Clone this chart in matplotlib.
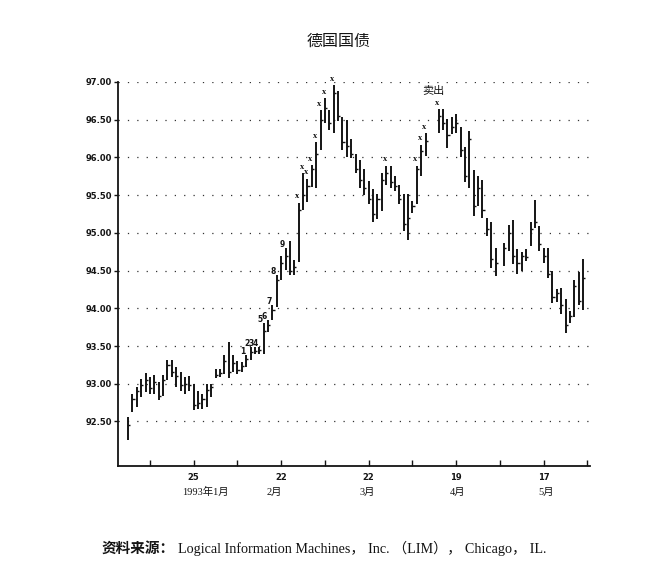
import matplotlib
matplotlib.use("Agg")
import matplotlib.pyplot as plt
import numpy as np

plt.rcParams['font.family'] = ['DejaVu Sans', 'Noto Sans CJK SC']

# ---------------- data (weekday slots, 4 Jan 1993 .. 28 May 1993; None = no trading) ----
highs = [92.56, 92.87, 92.96, 93.06, 93.14, 93.09, 93.12, 93.02, 93.11, 93.31,
         93.31, 93.22, 93.16, 93.09, 93.10, 93.00, 92.91, 92.87, 93.00, 93.00,
         93.20, 93.20, 93.38, 93.56, 93.38, 93.30, 93.29, 93.38, 93.49, 93.49,
         93.49, 93.80, 93.84, 94.04, 94.44, 94.69, 94.80, 94.89, 94.64, 95.40,
         95.79, 95.72, 95.90, 96.20, 96.63, 96.79, 96.63, 96.96, 96.88, 96.54,
         96.50, 96.25, 96.05, 95.97, 95.85, 95.69, 95.58, 95.51, 95.80, 95.89,
         95.89, 95.75, 95.64, 95.51, 95.51, 95.42, 95.89, 96.17, 96.32, None,
         None, 96.64, 96.64, 96.51, 96.53, 96.57, 96.40, 96.14, 96.35, 95.83,
         95.75, 95.70, 95.20, 95.15, 94.80, None, 94.87, 95.11, 95.17, 94.78,
         94.74, 94.78, 95.15, 95.44, 95.09, 94.80, 94.80, 94.49, 94.25, 94.27,
         94.13, 93.96, 94.38, 94.48, 94.65]
lows = [92.26, 92.62, 92.69, 92.83, 92.89, 92.87, 92.87, 92.78, 92.84, 93.05,
        93.09, 92.96, 92.91, 92.87, 92.90, 92.65, 92.67, 92.67, 92.69, 92.82,
        93.07, 93.09, 93.13, 93.07, 93.16, 93.13, 93.16, 93.22, 93.31, 93.40,
        93.40, 93.40, 93.69, 93.84, 94.02, 94.38, 94.51, 94.44, 94.44, 94.62,
        95.30, 95.41, 95.61, 95.59, 96.10, 96.45, 96.37, 96.32, 96.48, 96.10,
        96.00, 95.99, 95.79, 95.59, 95.50, 95.38, 95.15, 95.18, 95.29, 95.64,
        95.60, 95.55, 95.38, 95.02, 94.91, 95.26, 95.38, 95.75, 96.02, None,
        None, 96.33, 96.37, 96.13, 96.31, 96.33, 96.00, 95.68, 95.59, 95.22,
        95.35, 95.20, 94.96, 94.54, 94.43, None, 94.56, 94.76, 94.59, 94.45,
        94.50, 94.63, 94.83, 95.07, 94.76, 94.60, 94.40, 94.07, 94.09, 93.93,
        93.67, 93.80, 93.89, 94.04, 93.98]
closes = [92.45, 92.80, 92.90, 92.98, 93.05, 92.95, 93.02, 92.84, 93.05, 93.25,
          93.15, 93.10, 92.98, 93.00, 92.98, 92.72, 92.75, 92.80, 92.92, 92.96,
          93.12, 93.14, 93.30, 93.15, 93.28, 93.18, 93.24, 93.33, 93.42, 93.44,
          93.45, 93.70, 93.78, 93.98, 94.38, 94.60, 94.70, 94.50, 94.55, 95.30,
          95.50, 95.62, 95.85, 96.05, 96.50, 96.65, 96.45, 96.85, 96.55, 96.20,
          96.15, 96.05, 95.85, 95.70, 95.60, 95.45, 95.25, 95.45, 95.70, 95.80,
          95.68, 95.62, 95.45, 95.12, 95.20, 95.35, 95.85, 96.08, 96.22, None,
          None, 96.55, 96.45, 96.30, 96.40, 96.45, 96.10, 95.75, 96.25, 95.35,
          95.60, 95.30, 95.05, 94.65, 94.60, None, 94.80, 95.00, 94.70, 94.60,
          94.70, 94.68, 95.05, 95.15, 94.85, 94.70, 94.45, 94.15, 94.20, 94.05,
          93.78, 93.90, 94.30, 94.10, 94.40]

tick_slots = [15, 35, 55, 75, 95]
tick_labels = ['25', '22', '22', '19', '17']
minor_slots = [5, 25, 45, 65, 85, 105]
month_labels = ['1993年1月', '2月', '3月', '4月', '5月']
y_ticks = [92.5, 93.0, 93.5, 94.0, 94.5, 95.0, 95.5, 96.0, 96.5, 97.0]

count_slots = [27, 28, 29, 30, 31, 32, 33, 34, 36]
count_labels = ['1', '2', '3', '4', '5', '6', '7', '8', '9']
x_marker_slots = [39, 40, 41, 42, 43, 44, 45, 47, 59, 66, 67, 68, 71]
sell_slot = 71
sell_label = '卖出'

# ---------------- figure ----------------
fig = plt.figure(figsize=(6.65, 5.65), dpi=100)
ax = fig.add_axes([118/665, 1-466/565, (590-118)/665, (466-82)/565])

idx = [i for i, h in enumerate(highs) if h is not None]
xs = np.array(idx, dtype=float)
H = np.array([highs[i] for i in idx])
L = np.array([lows[i] for i in idx])
C = np.array([closes[i] for i in idx])

ink = '#141414'
ax.vlines(xs, L, H, color=ink, lw=1.4)
ax.hlines(C, xs, xs + 0.5, color=ink, lw=1.0)

ax.set_xlim(-2.3, 105.6)
ax.set_ylim(91.91, 97.0)

for yv in y_ticks:
    ax.axhline(yv, color='#333333', lw=0.9, ls=(0, (1, 6.5)), zorder=0)

ax.set_yticks(y_ticks)
ax.set_yticklabels([f'{v:.2f}' for v in y_ticks], fontsize=6, fontweight='bold')
ax.set_xticks(tick_slots)
ax.set_xticklabels(tick_labels, fontsize=6, fontweight='bold')
ax.set_xticks(minor_slots, minor=True)
ax.tick_params(axis='y', direction='out', length=3, width=1, pad=1.5, colors=ink)
ax.tick_params(axis='x', which='both', direction='in', length=4, width=1, pad=5, colors=ink)

for s in ['top', 'right']:
    ax.spines[s].set_visible(False)
for s in ['left', 'bottom']:
    ax.spines[s].set_linewidth(1.3)
    ax.spines[s].set_color(ink)

# month labels below tick labels
month_offsets = [2.6, -1.5, -0.3, 0.3, 0.5]
for s, lab, off in zip(tick_slots, month_labels, month_offsets):
    ax.text(s + off, -0.068, lab, transform=ax.get_xaxis_transform(), ha='center', va='center',
            fontsize=7.5, family=['Liberation Serif', 'Noto Sans CJK SC'], color=ink)

# count labels 1..9
for s, lab in zip(count_slots, count_labels):
    ax.text(s - 0.8, highs[s] - 0.01, lab, ha='center', va='bottom', fontsize=5.5,
            fontweight='bold', color=ink, clip_on=False)

# x markers
for s in x_marker_slots:
    ax.text(s - 0.3, highs[s] + 0.03, 'x', ha='center', va='bottom', fontsize=6,
            fontweight='bold', family='Liberation Serif', color=ink, clip_on=False)

ax.text(sell_slot - 1.3, highs[sell_slot] + 0.17, sell_label, ha='center', va='bottom',
        fontsize=8, family=['Noto Sans CJK SC'], color=ink, clip_on=False)

# title
fig.text(339/665, 1-41/565, '德国国债', ha='center', va='center', fontsize=11.5,
         fontweight='medium', family=['Noto Sans CJK SC'], color=ink)

# source line
fig.text(102/665, 1-548/565, '资料来源：', ha='left', va='center', fontsize=10.5,
         fontweight='bold', family=['Noto Sans CJK SC'], color=ink)
fig.text(178/665, 1-548/565, 'Logical Information Machines， Inc. （LIM）， Chicago， IL.',
         ha='left', va='center', fontsize=10.2, family=['Liberation Serif', 'Noto Sans CJK SC'],
         color=ink)

fig.savefig('out.png', dpi=100, facecolor='white')
